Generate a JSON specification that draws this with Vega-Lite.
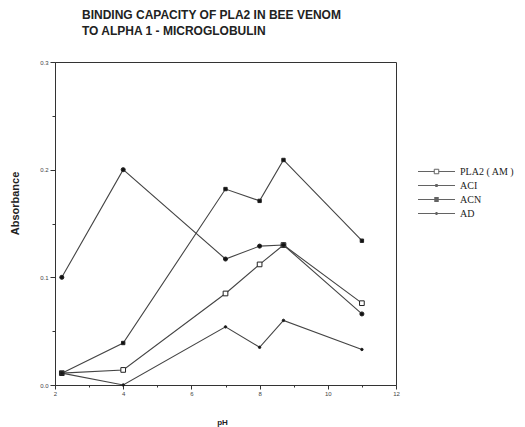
{
  "$schema": "https://vega.github.io/schema/vega-lite/v6.json",
  "width": 341,
  "height": 323,
  "autosize": {"type": "none"},
  "padding": {"left": 55, "top": 62, "right": 129, "bottom": 42},
  "background": "white",
  "config": {"view": {"stroke": "#333", "strokeWidth": 1}, "font": "Liberation Sans"},
  "title": {
    "text": ["BINDING CAPACITY OF PLA2 IN BEE VENOM", "TO ALPHA 1 - MICROGLOBULIN"],
    "anchor": "start",
    "frame": "group",
    "dx": 27,
    "offset": 21,
    "font": "Liberation Sans",
    "fontSize": 12,
    "fontWeight": "bold",
    "color": "#222",
    "lineHeight": 16
  },
  "data": {
    "values": [
      {"pH": 2.2, "abs": 0.011, "series": "PLA2 ( AM )"},
      {"pH": 4, "abs": 0.014, "series": "PLA2 ( AM )"},
      {"pH": 7, "abs": 0.085, "series": "PLA2 ( AM )"},
      {"pH": 8, "abs": 0.112, "series": "PLA2 ( AM )"},
      {"pH": 8.7, "abs": 0.13, "series": "PLA2 ( AM )"},
      {"pH": 11, "abs": 0.076, "series": "PLA2 ( AM )"},
      {"pH": 2.2, "abs": 0.1, "series": "ACI"},
      {"pH": 4, "abs": 0.2, "series": "ACI"},
      {"pH": 7, "abs": 0.117, "series": "ACI"},
      {"pH": 8, "abs": 0.129, "series": "ACI"},
      {"pH": 8.7, "abs": 0.13, "series": "ACI"},
      {"pH": 11, "abs": 0.066, "series": "ACI"},
      {"pH": 2.2, "abs": 0.011, "series": "ACN"},
      {"pH": 4, "abs": 0.039, "series": "ACN"},
      {"pH": 7, "abs": 0.182, "series": "ACN"},
      {"pH": 8, "abs": 0.171, "series": "ACN"},
      {"pH": 8.7, "abs": 0.209, "series": "ACN"},
      {"pH": 11, "abs": 0.134, "series": "ACN"},
      {"pH": 2.2, "abs": 0.011, "series": "AD"},
      {"pH": 4, "abs": 0.0, "series": "AD"},
      {"pH": 7, "abs": 0.054, "series": "AD"},
      {"pH": 8, "abs": 0.035, "series": "AD"},
      {"pH": 8.7, "abs": 0.06, "series": "AD"},
      {"pH": 11, "abs": 0.033, "series": "AD"}
    ]
  },
  "encoding": {
    "x": {
      "field": "pH",
      "type": "quantitative",
      "scale": {"domain": [2, 12], "nice": false, "zero": false},
      "axis": {
        "title": "pH",
        "values": [2, 3, 4, 5, 6, 7, 8, 9, 10, 11, 12],
        "labelExpr": "datum.value % 2 == 0 ? datum.label : ''",
        "tickSize": {"condition": {"test": "datum.value % 2 == 0", "value": 4}, "value": 2},
        "grid": false,
        "domainColor": "#333",
        "tickColor": "#333",
        "labelColor": "#444",
        "labelFontSize": 6,
        "labelPadding": 1,
        "labelFlush": false,
        "titleFontSize": 8,
        "titleFontWeight": "bold",
        "titleColor": "#222",
        "titleX": 167,
        "titleY": 37,
        "titleAlign": "center",
        "titleBaseline": "middle"
      }
    },
    "y": {
      "field": "abs",
      "type": "quantitative",
      "scale": {"domain": [0, 0.3], "nice": false},
      "axis": {
        "title": "Absorbance",
        "values": [0, 0.05, 0.1, 0.15, 0.2, 0.25, 0.3],
        "labelExpr": "round(datum.value * 100) % 10 == 0 ? format(datum.value, '.1f') : ''",
        "tickSize": {"condition": {"test": "round(datum.value * 100) % 10 == 0", "value": 5}, "value": 3},
        "grid": false,
        "domainColor": "#333",
        "tickColor": "#333",
        "labelColor": "#444",
        "labelFontSize": 6,
        "labelPadding": 2,
        "labelFlush": false,
        "titleFontSize": 11,
        "titleFontWeight": "bold",
        "titleColor": "#222",
        "titleX": -40,
        "titleY": 141,
        "titleAngle": -90,
        "titleAlign": "center",
        "titleBaseline": "middle"
      }
    }
  },
  "layer": [
    {
      "mark": {"type": "line", "color": "#444", "strokeWidth": 1.1},
      "encoding": {"detail": {"field": "series"}}
    },
    {
      "mark": {"type": "point", "filled": true, "stroke": "#222", "strokeWidth": 1, "opacity": 1},
      "encoding": {
        "shape": {
          "field": "series",
          "scale": {"domain": ["PLA2 ( AM )", "ACI", "ACN", "AD"], "range": ["square", "circle", "square", "circle"]},
          "legend": null
        },
        "fill": {
          "field": "series",
          "scale": {"domain": ["PLA2 ( AM )", "ACI", "ACN", "AD"], "range": ["white", "#111", "#111", "#111"]},
          "legend": null
        },
        "size": {
          "field": "series",
          "type": "nominal",
          "scale": {"domain": ["PLA2 ( AM )", "ACI", "ACN", "AD"], "range": [22, 6, 22, 4]},
          "legend": null
        }
      }
    },
    {
      "transform": [{"filter": "datum.pH > 100"}],
      "mark": {"type": "point", "filled": false, "stroke": "#222", "strokeWidth": 1},
      "encoding": {
        "shape": {
          "field": "series",
          "scale": {
            "domain": ["PLA2 ( AM )", "ACI", "ACN", "AD"],
            "range": [
              "M-3.7,0H-0.45M0.45,0H3.7M-0.45,-0.45H0.45V0.45H-0.45Z",
              "M-3.7,0H3.7M-0.25,-0.2H0.25M-0.25,0.2H0.25",
              "M-3.7,0H3.7M-0.45,-0.4H0.45M-0.45,-0.2H0.45M-0.45,0.2H0.45M-0.45,0.4H0.45",
              "M-3.7,0H3.7M-0.2,-0.2H0.2M-0.2,0.2H0.2"
            ]
          },
          "legend": {
            "title": null,
            "orient": "none",
            "legendX": 376,
            "legendY": 104,
            "symbolSize": 100,
            "symbolStrokeWidth": 1,
            "labelFont": "Liberation Serif",
            "labelFontSize": 10,
            "labelColor": "#222",
            "labelOffset": 18,
            "rowPadding": 3,
            "padding": 0
          }
        }
      }
    }
  ],
  "resolve": {"scale": {"shape": "independent"}}
}
